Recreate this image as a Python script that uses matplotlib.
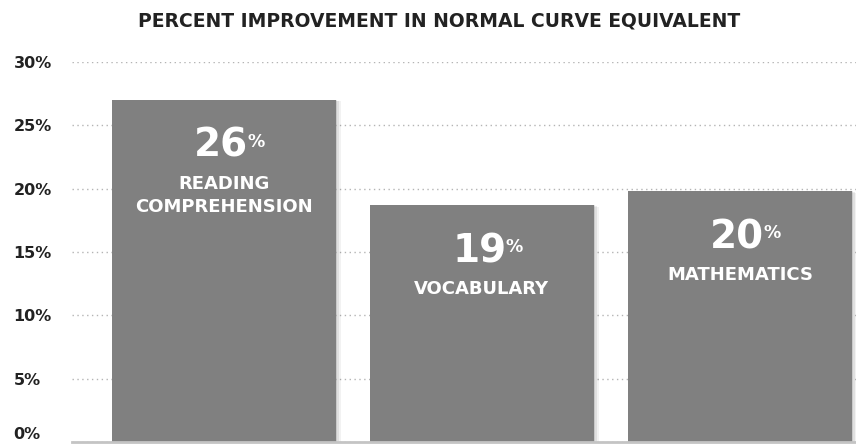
import matplotlib.pyplot as plt
import matplotlib.patheffects as pe

subjects = ["READING\nCOMPREHENSION", "VOCABULARY", "MATHEMATICS"]
improvement = [26, 19, 20]          # numbers printed on the bars
bar_heights = [27.0, 18.7, 19.8]    # heights as drawn in the picture
yticks = [0, 5, 10, 15, 20, 25, 30]

bar_color = "#808080"
text_dark = "#222222"

plt.rcParams["font.family"] = "DejaVu Sans"

fig = plt.figure(figsize=(8.56, 4.44), dpi=100)
ax = fig.add_axes([72 / 856, 2 / 444, 784 / 856, 380 / 444])

x = list(range(len(subjects)))
shadow = [
    pe.SimplePatchShadow(offset=(4, -1), shadow_rgbFace="black", alpha=0.05),
    pe.SimplePatchShadow(offset=(2.5, -0.5), shadow_rgbFace="black", alpha=0.07),
    pe.SimplePatchShadow(offset=(1, 0), shadow_rgbFace="black", alpha=0.1),
    pe.Normal(),
]
bars = ax.bar(x, bar_heights, width=0.868, color=bar_color, zorder=3)
for b in bars:
    b.set_path_effects(shadow)

# text inside the bars
for xi, h, val, name in zip(x, bar_heights, improvement, subjects):
    ax.annotate(str(val), (xi, h), xytext=(-2, -41), textcoords="offset points",
                ha="center", va="baseline", color="white", fontsize=28,
                fontweight="bold", zorder=5)
    ax.annotate("%", (xi, h), xytext=(17, -34), textcoords="offset points",
                ha="left", va="baseline", color="white", fontsize=12.5,
                fontweight="bold", zorder=5)
    for i, line in enumerate(name.split("\n")):
        ax.annotate(line, (xi, h), xytext=(0, -64 - i * 17), textcoords="offset points",
                    ha="center", va="baseline", color="white", fontsize=13,
                    fontweight="bold", zorder=5)

ax.set_xlim(-0.589, 2.45)
ax.set_ylim(0, 30)
ax.set_xticks([])
ax.set_yticks(yticks)
ax.set_yticklabels([f"{t}%" for t in yticks])
ax.tick_params(axis="y", length=0, pad=42, labelsize=11.5, labelcolor=text_dark)
for lab in ax.get_yticklabels():
    lab.set_horizontalalignment("left")
    lab.set_fontweight("bold")
ax.get_yticklabels()[0].set_verticalalignment("bottom")

ax.yaxis.grid(True, linestyle=(0, (1, 2.5)), color="#b4b4b4", linewidth=1, zorder=0)
ax.set_axisbelow(True)
for s in ["top", "right", "left"]:
    ax.spines[s].set_visible(False)
ax.spines["bottom"].set_color("#c4c4c4")
ax.spines["bottom"].set_linewidth(2)
ax.spines["bottom"].set_zorder(4)

fig.text(439 / 856, 1 - 21 / 444, "PERCENT IMPROVEMENT IN NORMAL CURVE EQUIVALENT",
         ha="center", va="center", fontsize=13.5, fontweight="bold", color=text_dark)

fig.savefig("out.png", dpi=100)
